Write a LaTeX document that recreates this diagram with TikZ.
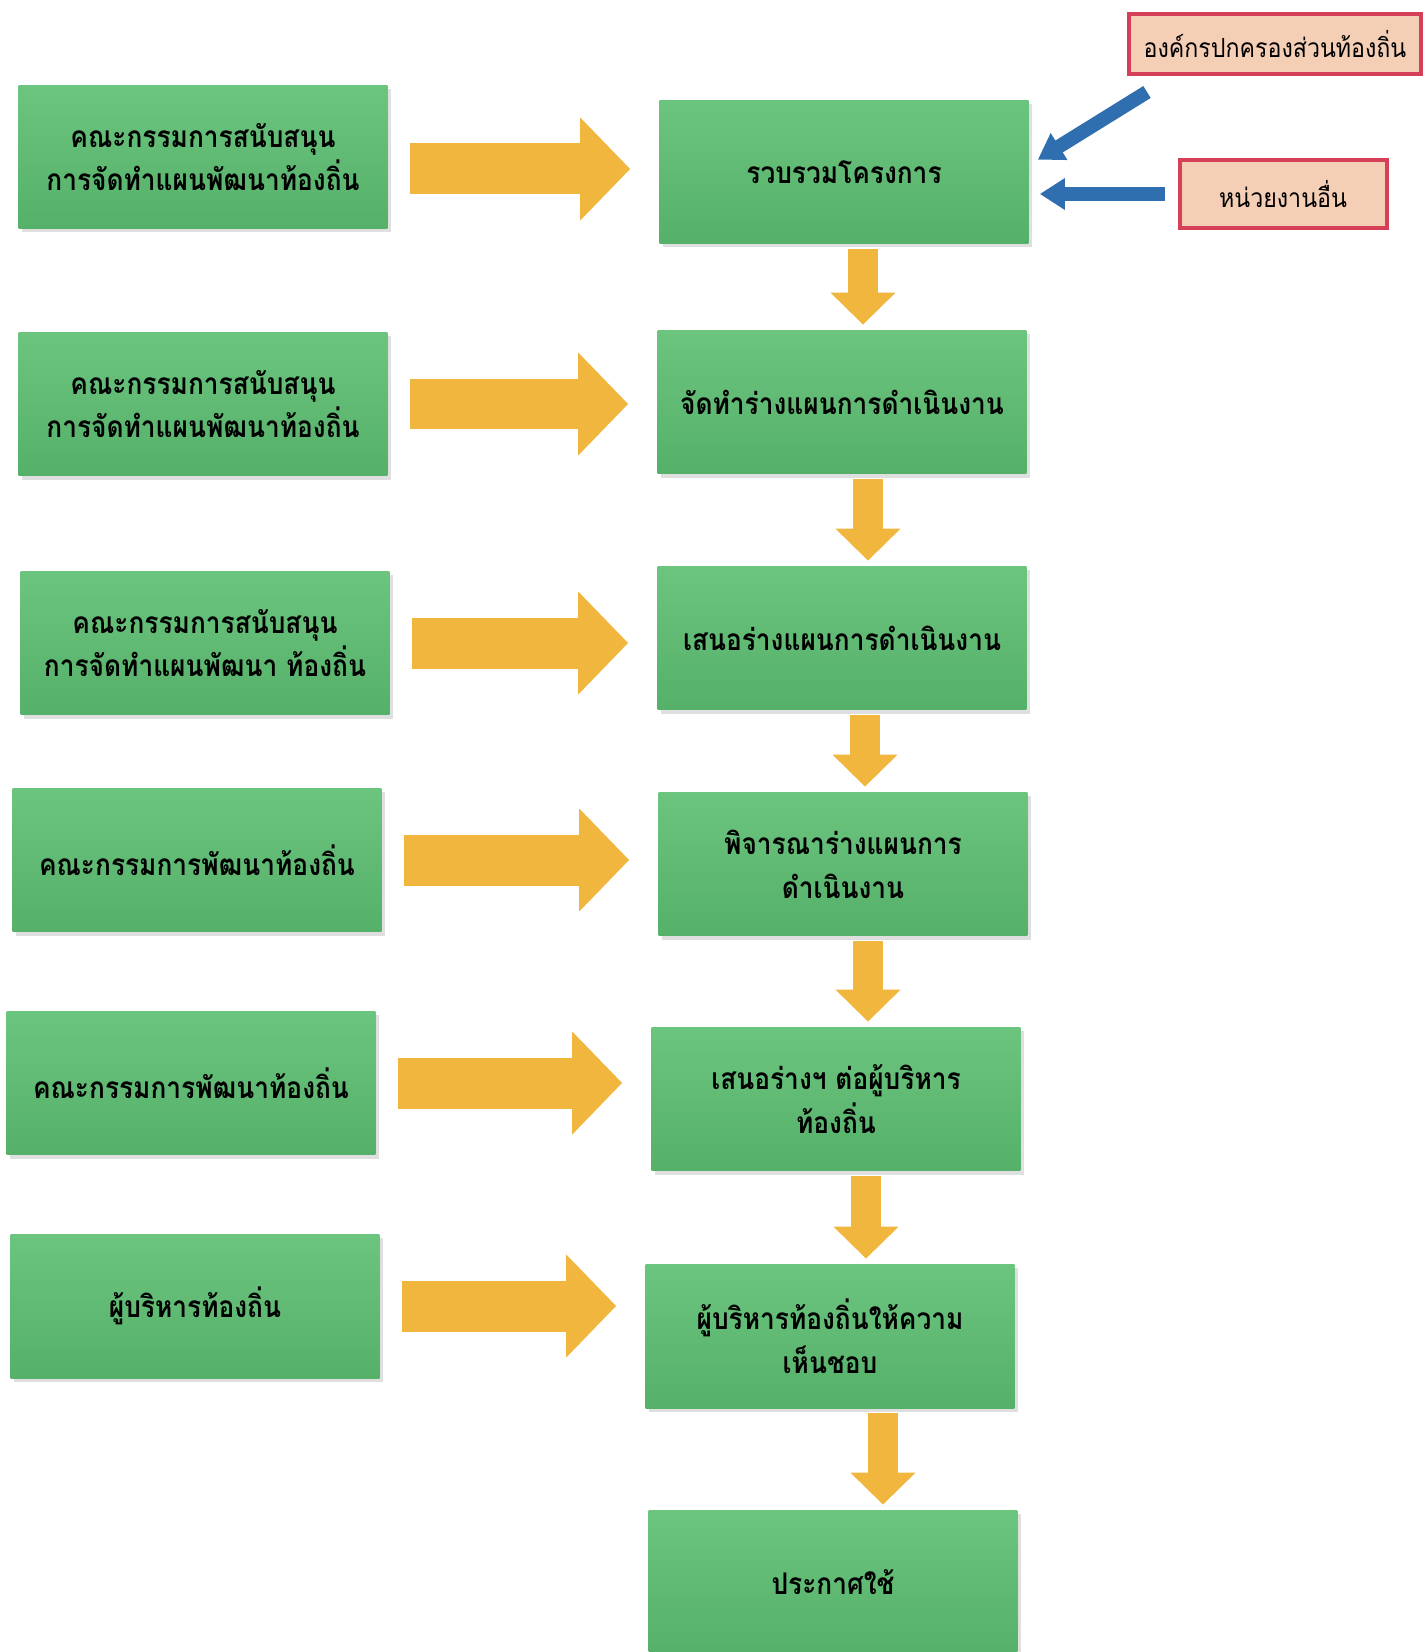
\documentclass[tikz,border=0pt]{standalone}
\usepackage{fontspec}
\newfontfamily\thaifont[Script=Thai,FakeStretch=0.88]{Loma}
\usetikzlibrary{arrows.meta,shadows}

\definecolor{boxtop}{HTML}{6CC57F}
\definecolor{boxbot}{HTML}{55B06A}
\definecolor{arrowyel}{HTML}{F0B63E}
\definecolor{arrowblue}{HTML}{2F6EAF}
\definecolor{pinkfill}{HTML}{F5CEB6}
\definecolor{pinkline}{HTML}{D63F58}

\begin{document}
\begin{tikzpicture}[x=0.02cm,y=-0.02cm]
        \tikzstyle{stepbox}=[top color=boxtop,bottom color=boxbot,
                minimum width=7.38cm,minimum height=2.88cm,align=center,
                font=\thaifont\bfseries\fontsize{17}{25}\selectfont,
                drop shadow={opacity=0.25,shadow xshift=2pt,shadow yshift=-2pt}]
        \tikzstyle{srcbox}=[fill=pinkfill,draw=pinkline,line width=0.08cm,
                align=center,font=\thaifont\fontsize{15}{20}\selectfont]
        \tikzstyle{rarr}=[draw=arrowyel,line width=1.02cm,
                -{Triangle[width=2cm,length=1cm]},shorten <=0.44cm,shorten >=0.58cm]
        \tikzstyle{darr}=[draw=arrowyel,line width=0.6cm,
                -{Triangle[width=1.26cm,length=0.64cm]},shorten <=0.1cm,shorten >=0.1cm]
        \tikzstyle{barr}=[draw=arrowblue,line width=0.28cm,
                -{Triangle[width=0.6cm,length=0.5cm]}]

        \fill[white] (0,0) rectangle (1425,1652);
        \useasboundingbox (0,0) rectangle (1425,1652);

        % left column
        \node[stepbox] (L01) at (203,157)  {คณะกรรมการสนับสนุน\\การจัดทำแผนพัฒนาท้องถิ่น};
        \node[stepbox] (L02) at (203,404)  {คณะกรรมการสนับสนุน\\การจัดทำแผนพัฒนาท้องถิ่น};
        \node[stepbox] (L03) at (205,643)  {คณะกรรมการสนับสนุน\\การจัดทำแผนพัฒนา ท้องถิ่น};
        \node[stepbox] (L04) at (197,860)  {คณะกรรมการพัฒนาท้องถิ่น};
        \node[stepbox] (L05) at (191,1083) {คณะกรรมการพัฒนาท้องถิ่น};
        \node[stepbox] (L06) at (195,1306) {ผู้บริหารท้องถิ่น};

        % main column
        \node[stepbox] (C01) at (844,172)  {รวบรวมโครงการ};
        \node[stepbox] (C02) at (842,402)  {จัดทำร่างแผนการดำเนินงาน};
        \node[stepbox] (C03) at (842,638)  {เสนอร่างแผนการดำเนินงาน};
        \node[stepbox] (C04) at (843,864)  {พิจารณาร่างแผนการ\\ดำเนินงาน};
        \node[stepbox] (C05) at (836,1099) {เสนอร่างฯ ต่อผู้บริหาร\\ท้องถิ่น};
        \node[stepbox] (C06) at (830,1336) {ผู้บริหารท้องถิ่นให้ความ\\เห็นชอบ};
        \node[stepbox] (C07) at (833,1582) {ประกาศใช้};

        % sources
        \node[srcbox,minimum width=5.86cm,minimum height=1.2cm]  (P01) at (1275,44)  {องค์กรปกครองส่วนท้องถิ่น};
        \node[srcbox,minimum width=4.14cm,minimum height=1.36cm] (P02) at (1283,194) {หน่วยงานอื่น};
        \coordinate (B01) at (1147,92);

        \path ([yshift=-0.24cm]L01.east) edge[rarr] ([yshift=-0.24cm]L01.east -| C01.west)
              (L02.east) edge[rarr] (L02.east -| C02.west)
              (L03.east) edge[rarr] (L03.east -| C03.west)
              (L04.east) edge[rarr] (L04.east -| C04.west)
              (L05.east) edge[rarr] (L05.east -| C05.west)
              (L06.east) edge[rarr] (L06.east -| C06.west);

        \path ([xshift=0.38cm]C01.south) edge[darr] ([xshift=0.38cm]C01.south |- C02.north)
              ([xshift=0.52cm]C02.south) edge[darr] ([xshift=0.52cm]C02.south |- C03.north)
              ([xshift=0.46cm]C03.south) edge[darr] ([xshift=0.46cm]C03.south |- C04.north)
              ([xshift=0.5cm]C04.south)  edge[darr] ([xshift=0.5cm]C04.south |- C05.north)
              ([xshift=0.6cm]C05.south)  edge[darr] ([xshift=0.6cm]C05.south |- C06.north)
              ([xshift=1.06cm]C06.south) edge[darr] ([xshift=1.06cm]C06.south |- C07.north);

        \draw[barr] (B01) -- ([shift={(9,60)}]C01.north east);
        \draw[barr,shorten <=0.26cm,shorten >=0.22cm] (P02.west) -- (P02.west -| C01.east);
\end{tikzpicture}
\end{document}
